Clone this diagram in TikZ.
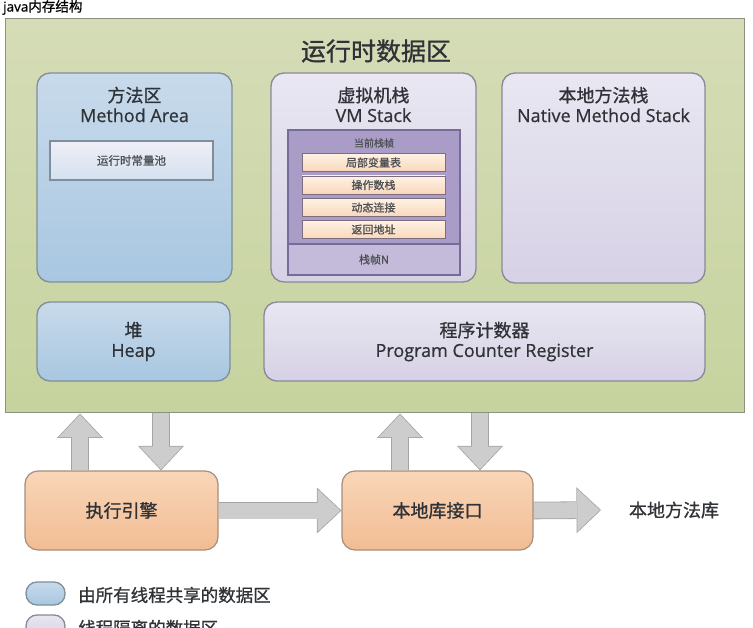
\documentclass[tikz,border=0pt]{standalone}
\usepackage{fontspec}
\setmainfont{Noto Sans CJK SC}[RawFeature={embolden=0.9}]
\newfontfamily\lat{Open Sans}[RawFeature={embolden=0.6}]
\usetikzlibrary{positioning,arrows.meta,backgrounds}
\definecolor{areaedge}{HTML}{8C9180}
\definecolor{areatop}{HTML}{D5DCB7}
\definecolor{areabot}{HTML}{C6D39E}
\definecolor{sharededge}{HTML}{7F8E98}
\definecolor{sharedtop}{HTML}{C8DAEB}
\definecolor{sharedbot}{HTML}{A8C7E1}
\definecolor{privedge}{HTML}{8A8898}
\definecolor{privtop}{HTML}{E9E7F2}
\definecolor{privbot}{HTML}{D6D1E5}
\definecolor{framefill}{HTML}{A99DC8}
\definecolor{frameedge}{HTML}{776C98}
\definecolor{framelow}{HTML}{C4BBDA}
\definecolor{slottop}{HTML}{FEF1E4}
\definecolor{slotbot}{HTML}{F9D8BC}
\definecolor{slotedge}{HTML}{7C6E7C}
\definecolor{enginetop}{HTML}{F9D6B8}
\definecolor{enginebot}{HTML}{F2BC93}
\definecolor{engineedge}{HTML}{A38F7C}
\definecolor{arrowline}{HTML}{A4A4A4}
\definecolor{arrowfill}{HTML}{CDCDCD}
\definecolor{ink}{HTML}{2F3236}
\newcommand{\blockarrow}[2]{%
  \draw[arrowedge] #1 -- #2;
  \draw[arrowcore] #1 -- #2;}
\tikzset{
  region/.style={draw=areaedge, line width=1pt, top color=areatop, bottom color=areabot, inner sep=0pt},
  sharedbox/.style={rounded corners=13pt, draw=sharededge, line width=1.3pt, top color=sharedtop, bottom color=sharedbot, inner sep=0pt},
  privbox/.style={rounded corners=13pt, draw=privedge, line width=1.3pt, top color=privtop, bottom color=privbot, inner sep=0pt},
  poolbox/.style={draw=sharededge, line width=1.2pt, top color=privtop!70!white, bottom color=sharedtop!80!white, inner sep=0pt},
  framebox/.style={draw=frameedge, line width=1.2pt, fill=framefill, inner sep=0pt},
  slotbox/.style={draw=slotedge, line width=0.9pt, top color=slottop, bottom color=slotbot, inner sep=0pt, minimum width=143pt, minimum height=18pt},
  enginebox/.style={rounded corners=13pt, draw=engineedge, line width=1.2pt, top color=enginetop, bottom color=enginebot, inner sep=0pt},
  boxtitle/.style={font=\fontsize{18}{20}\selectfont, align=center, text=ink, inner sep=0pt},
  smalltext/.style={font=\fontsize{11}{13}\selectfont, text=ink!85, inner sep=0pt},
  arrowedge/.style={line width=17.6pt, color=arrowline, -{Triangle[length=24.5pt,width=46pt,line width=0pt]}},
  arrowcore/.style={line width=16pt, color=arrowfill, shorten >=1.2pt, -{Triangle[length=22.5pt,width=42.3pt,line width=0pt]}}
}

\begin{document}
\begin{tikzpicture}[x=1pt,y=-1pt]
\useasboundingbox (0,0) rectangle (753,628);
\clip (0,0) rectangle (753,628);

\node[anchor=west, font=\fontsize{13.5}{15}\selectfont, inner sep=0pt] (title) at (3,7.5) {{\lat java}内存结构};

% runtime data area
\node[region, minimum width=739pt, minimum height=394pt] (rtda) at (374.5,216) {};
\node[boxtitle, font=\fontsize{25}{28}\selectfont] (rtdatitle) at (376,51) {运行时数据区};

\node[sharedbox, minimum width=195pt, minimum height=209pt] (method) at (134.5,177.5) {};
\node[boxtitle] (methodtitle) at (134.5,104.5) {方法区\\{\lat Method Area}};
\node[poolbox, minimum width=163pt, minimum height=39pt] (pool) at (131.5,160.5) {};
\node[smalltext, font=\fontsize{11.5}{13}\selectfont] (pooltext) at (pool) {运行时常量池};

\node[privbox, minimum width=205pt, minimum height=209pt] (vmstack) at (373.5,177.5) {};
\node[boxtitle] (vmtitle) at (373.5,104.5) {虚拟机栈\\{\lat VM Stack}};
\node[framebox, minimum width=172pt, minimum height=145pt] (frame) at (374,202.5) {};
\node[framebox, fill=framelow, minimum width=172pt, minimum height=31pt] (frameN) at (374,259.5) {};
\node[smalltext, font=\fontsize{10}{12}\selectfont] (curframe) at (374,143) {当前栈帧};
\node[slotbox] (locals) at (373.5,162.5) {};
\node[slotbox] (operand) at (373.5,185) {};
\node[slotbox] (dynlink) at (373.5,207.5) {};
\node[slotbox] (retaddr) at (373.5,229.5) {};
\node[smalltext] at (locals) {局部变量表};
\node[smalltext] at (operand) {操作数栈};
\node[smalltext] at (dynlink) {动态连接};
\node[smalltext] at (retaddr) {返回地址};
\node[smalltext] (frameNtext) at (frameN) {栈帧N};

\node[privbox, minimum width=203pt, minimum height=210pt] (native) at (603.5,178) {};
\node[boxtitle] (nativetitle) at (603.5,104.5) {本地方法栈\\{\lat Native Method Stack}};

\node[sharedbox, minimum width=193pt, minimum height=79pt] (heap) at (133.5,341.5) {};
\node[boxtitle] (heaptitle) at (heap) {堆\\{\lat Heap}};
\node[privbox, minimum width=441pt, minimum height=79pt] (pc) at (484.5,341.5) {};
\node[boxtitle] (pctitle) at (pc) {程序计数器\\{\lat Program Counter Register}};

% engine and native interface
\node[enginebox, minimum width=193pt, minimum height=79pt] (exec) at (121.5,510.5) {};
\node[boxtitle] (exectext) at (exec) {执行引擎};
\node[enginebox, minimum width=191pt, minimum height=79pt] (lib) at (437.5,510.5) {};
\node[boxtitle] (libtext) at (lib) {本地库接口};
\node[boxtitle] (nativelib) at (674,510) {本地方法库};
\coordinate (libend) at (601,510);

\coordinate (upa) at (80,0);
\coordinate (downa) at (161,0);
\coordinate (upb) at (400,0);
\coordinate (downb) at (480,0);

\begin{scope}[on background layer]
\blockarrow{(exec.north -| upa)}{(rtda.south -| upa)}
\blockarrow{(rtda.south -| downa)}{(exec.north -| downa)}
\blockarrow{(lib.north -| upb)}{(rtda.south -| upb)}
\blockarrow{(rtda.south -| downb)}{(lib.north -| downb)}
\blockarrow{(exec.east)}{(lib.west)}
\blockarrow{(lib.east)}{(libend)}
\end{scope}

% legend
\node[sharedbox, rounded corners=11pt, minimum width=39pt, minimum height=23pt] (keyshared) at (45.5,593.5) {};
\node[boxtitle, font=\fontsize{17.5}{20}\selectfont, anchor=west] (keysharedtext) at (78,595) {由所有线程共享的数据区};
\node[privbox, rounded corners=11pt, minimum width=39pt, minimum height=23pt] (keypriv) at (45.5,626.5) {};
\node[boxtitle, font=\fontsize{17.5}{20}\selectfont, anchor=west] (keyprivtext) at (78,628) {线程隔离的数据区};
\end{tikzpicture}
\end{document}
